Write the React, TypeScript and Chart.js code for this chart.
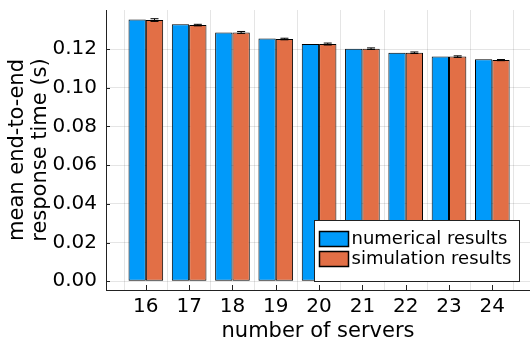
import React, { useEffect, useRef } from "react";
import { Chart, registerables } from "chart.js";

Chart.register(...registerables);

// number of servers on the x axis
const servers = [16, 17, 18, 19, 20, 21, 22, 23, 24];
// mean end-to-end response time (s)
const numerical = [0.1353, 0.1328, 0.1286, 0.1255, 0.1226, 0.1202, 0.1181, 0.1162, 0.1147];
const simulation = [0.135, 0.1324, 0.1286, 0.1252, 0.1226, 0.1202, 0.1181, 0.1161, 0.1143];
// half-width of the simulation confidence intervals
const simulationErr = [0.0007, 0.0004, 0.0005, 0.0004, 0.0005, 0.0004, 0.0004, 0.0004, 0.0003];
const yTicks = [0, 0.02, 0.04, 0.06, 0.08, 0.1, 0.12];
const seriesNames = ["numerical results", "simulation results"];

const BLUE = "#009afa";
const ORANGE = "#e26f46";
const FONT = "'DejaVu Sans', sans-serif";

// error bars on the simulation bars, inward ticks and the boxed legend
const decorations = {
  id: "decorations",
  afterDatasetsDraw(chart: any) {
    const { ctx, chartArea, scales } = chart;
    const x = scales.x;
    const y = scales.y;

    // error bars
    const meta = chart.getDatasetMeta(1);
    ctx.save();
    ctx.strokeStyle = "#000";
    ctx.lineWidth = 1;
    meta.data.forEach((bar: any, i: number) => {
      const cx = bar.x;
      const top = y.getPixelForValue(simulation[i] + simulationErr[i]);
      const bot = y.getPixelForValue(simulation[i] - simulationErr[i]);
      ctx.beginPath();
      ctx.moveTo(cx, top);
      ctx.lineTo(cx, bot);
      ctx.moveTo(cx - 4, top);
      ctx.lineTo(cx + 4, top);
      ctx.moveTo(cx - 4, bot);
      ctx.lineTo(cx + 4, bot);
      ctx.stroke();
    });

    // inward tick marks
    ctx.strokeStyle = "#222";
    ctx.beginPath();
    yTicks.forEach((v) => {
      const py = Math.round(y.getPixelForValue(v)) + 0.5;
      ctx.moveTo(chartArea.left, py);
      ctx.lineTo(chartArea.left + 4, py);
    });
    servers.forEach((v) => {
      const px = Math.round(x.getPixelForValue(v)) + 0.5;
      ctx.moveTo(px, chartArea.bottom);
      ctx.lineTo(px, chartArea.bottom - 5);
    });
    ctx.stroke();

    // legend box
    const lx = chartArea.left + 208.5;
    const ly = chartArea.top + 210.5;
    const lw = 205;
    const lh = 61;
    ctx.fillStyle = "#fff";
    ctx.fillRect(lx, ly, lw, lh);
    ctx.strokeStyle = "#222";
    ctx.lineWidth = 1;
    ctx.strokeRect(lx, ly, lw, lh);
    const colors = [BLUE, ORANGE];
    ctx.font = `18px ${FONT}`;
    ctx.textBaseline = "middle";
    seriesNames.forEach((name, i) => {
      const sy = ly + 11 + i * 20;
      ctx.fillStyle = colors[i];
      ctx.fillRect(lx + 5, sy, 29, 15);
      ctx.strokeStyle = "#000";
      ctx.lineWidth = 1.5;
      ctx.strokeRect(lx + 5, sy, 29, 15);
      ctx.fillStyle = "#000";
      ctx.fillText(name, lx + 37, sy + 8);
    });
    ctx.restore();
  },
};

export default function App() {
  const canvasRef = useRef<HTMLCanvasElement | null>(null);

  useEffect(() => {
    if (!canvasRef.current) return;
    const chart = new Chart(canvasRef.current, {
      type: "bar",
      data: {
        datasets: [
          {
            label: seriesNames[0],
            data: servers.map((s, i) => ({ x: s, y: numerical[i] })),
            backgroundColor: BLUE,
            borderColor: "#000",
            borderWidth: 1,
            borderSkipped: false,
          },
          {
            label: seriesNames[1],
            data: servers.map((s, i) => ({ x: s, y: simulation[i] })),
            backgroundColor: ORANGE,
            borderColor: "#000",
            borderWidth: 1,
            borderSkipped: false,
          },
        ],
      },
      options: {
        animation: false,
        responsive: false,
        devicePixelRatio: 1,
        layout: { padding: { top: 10, left: 0, right: 0, bottom: 0 } },
        datasets: { bar: { categoryPercentage: 0.8, barPercentage: 1.0 } },
        plugins: { legend: { display: false }, tooltip: { enabled: false } },
        scales: {
          x: {
            type: "linear",
            min: 15.08,
            max: 24.87,
            offset: false,
            afterBuildTicks: (axis: any) => {
              axis.ticks = servers.map((v) => ({ value: v }));
            },
            afterFit: (axis: any) => {
              axis.height = 51;
              axis.paddingLeft = 0;
              axis.paddingRight = 0;
            },
            grid: { color: "rgba(0,0,0,0.1)", drawTicks: false },
            border: { color: "#222", width: 1 },
            ticks: {
              font: { family: FONT, size: 20 },
              color: "#000",
              padding: 5,
              autoSkip: false,
              maxRotation: 0,
              callback: (v: any) => String(v),
            },
            title: {
              display: true,
              text: "number of servers",
              font: { family: FONT, size: 21 },
              color: "#000",
              padding: { top: 0, bottom: -3 },
            },
          },
          y: {
            min: -0.00455,
            max: 0.1402,
            afterBuildTicks: (axis: any) => {
              axis.ticks = yTicks.map((v) => ({ value: v }));
            },
            afterFit: (axis: any) => {
              axis.width = 106;
              axis.paddingTop = 0;
              axis.paddingBottom = 0;
            },
            grid: { color: "rgba(0,0,0,0.1)", drawTicks: false },
            border: { color: "#222", width: 1 },
            ticks: {
              font: { family: FONT, size: 20 },
              color: "#000",
              padding: 9,
              callback: (v: any) => Number(v).toFixed(2),
            },
            title: {
              display: true,
              text: ["mean end-to-end", "response time (s)"],
              font: { family: FONT, size: 21, lineHeight: 1.1 },
              color: "#000",
              padding: { top: 6, bottom: 0 },
            },
          },
        },
      },
      plugins: [decorations],
    });
    return () => chart.destroy();
  }, []);

  return (
    <div style={{ position: "fixed", left: 0, top: 0, width: 530, height: 341, background: "#fff" }}>
      <canvas ref={canvasRef} width={530} height={341} style={{ display: "block" }} />
    </div>
  );
}
